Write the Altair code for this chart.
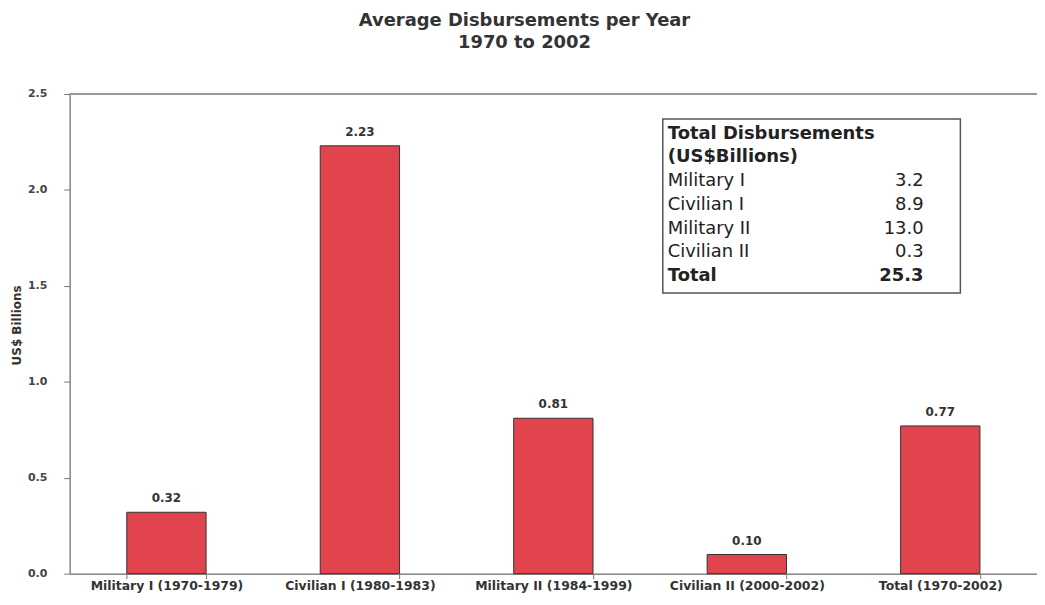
import altair as alt
import pandas as pd

# ---- data ----
categories = ["Military I (1970-1979)", "Civilian I (1980-1983)", "Military II (1984-1999)",
              "Civilian II (2000-2002)", "Total (1970-2002)"]
avg_values = [0.32, 2.23, 0.81, 0.10, 0.77]

table_header = ["Total Disbursements", "(US$Billions)"]
table_labels = ["Military I", "Civilian I", "Military II", "Civilian II", "Total"]
table_values = ["3.2", "8.9", "13.0", "0.3", "25.3"]

FONT = "DejaVu Sans"
W, H = 972, 482

bars_df = pd.DataFrame({"category": categories, "value": avg_values})

rows = []
for i, t in enumerate(table_header):
    rows.append({"row": i, "label": t, "num": "", "bold": True})
for j, (l, v) in enumerate(zip(table_labels, table_values)):
    rows.append({"row": j + 2, "label": l, "num": v, "bold": l == "Total"})
table_df = pd.DataFrame(rows)

xenc = alt.X("category:N", sort=categories, title=None,
             scale=alt.Scale(paddingInner=0.59, paddingOuter=0.295),
             axis=alt.Axis(labelFont=FONT, labelFontSize=12.5, labelFontWeight="bold",
                           labelColor="#333", labelAngle=0, tickBand="extent",
                           tickSize=5, tickColor="#777", domainColor="#888", domainWidth=1.5,
                           labelPadding=11, labelBaseline="alphabetic"))
yenc = alt.Y("value:Q", scale=alt.Scale(domain=[0, 2.5], nice=False),
             axis=alt.Axis(values=[0, 0.5, 1.0, 1.5, 2.0, 2.5], format=".1f",
                           labelFont=FONT, labelFontSize=11, labelFontWeight="bold",
                           labelColor="#444", tickSize=6, tickColor="#777",
                           domainColor="#888", domainWidth=1.5, labelPadding=17,
                           grid=False, title="US$ Billions", titleFont=FONT,
                           titleFontSize=12, titleFontWeight="bold", titleColor="#333",
                           titleAngle=270, titleAlign="center", titleBaseline="middle",
                           titleX=-53, titleY=232))

base = alt.Chart(bars_df)
bars = base.mark_bar(color="#e2444d", stroke="#333", strokeWidth=1).encode(x=xenc, y=yenc)
labels = base.mark_text(font=FONT, fontSize=12, fontWeight="bold", color="#333",
                        baseline="alphabetic", dy=-10).encode(
    x=alt.X("category:N", sort=categories), y="value:Q",
    text=alt.Text("value:Q", format=".2f"))
top_rule = base.mark_rule(color="#999", strokeWidth=1.5).encode(y=alt.datum(2.5))

main = alt.layer(top_rule, bars, labels)

box = alt.Chart(pd.DataFrame({"a": [0]})).mark_rect(
    fill="white", stroke="#555", strokeWidth=1.5).encode(
    x=alt.value(596), x2=alt.value(895), y=alt.value(25), y2=alt.value(200))

ty = alt.Y("row:Q", scale=alt.Scale(domain=[0, 6], range=[45, 45 + 6 * 23.8]), axis=None)
tbase = alt.Chart(table_df)
t_bold = tbase.transform_filter("datum.bold").mark_text(
    font=FONT, fontSize=18, fontWeight="bold", color="#222", align="left",
    baseline="alphabetic").encode(x=alt.value(601), y=ty, text="label:N")
t_reg = tbase.transform_filter("!datum.bold").mark_text(
    font=FONT, fontSize=18, color="#222", align="left",
    baseline="alphabetic").encode(x=alt.value(601), y=ty, text="label:N")
n_bold = tbase.transform_filter("datum.bold").mark_text(
    font=FONT, fontSize=18, fontWeight="bold", color="#222", align="right",
    baseline="alphabetic").encode(x=alt.value(858), y=ty, text="num:N")
n_reg = tbase.transform_filter("!datum.bold").mark_text(
    font=FONT, fontSize=18, color="#222", align="right",
    baseline="alphabetic").encode(x=alt.value(858), y=ty, text="num:N")

table = alt.layer(box, t_bold, t_reg, n_bold, n_reg)

chart = alt.layer(main, table).resolve_scale(y="independent").properties(
    width=W, height=H,
    autosize=alt.AutoSizeParams(type="none"),
    padding={"left": 62, "top": 85, "right": 0, "bottom": 18},
    title=alt.Title(["Average Disbursements per Year", "1970 to 2002"], font=FONT,
                    fontSize=18, fontWeight="bold", color="#333", anchor="middle",
                    lineHeight=22, offset=36, dx=-29),
).configure_view(stroke=None).configure(background="white")

chart.save("out.html", embed_options={"renderer": "svg", "actions": False})
